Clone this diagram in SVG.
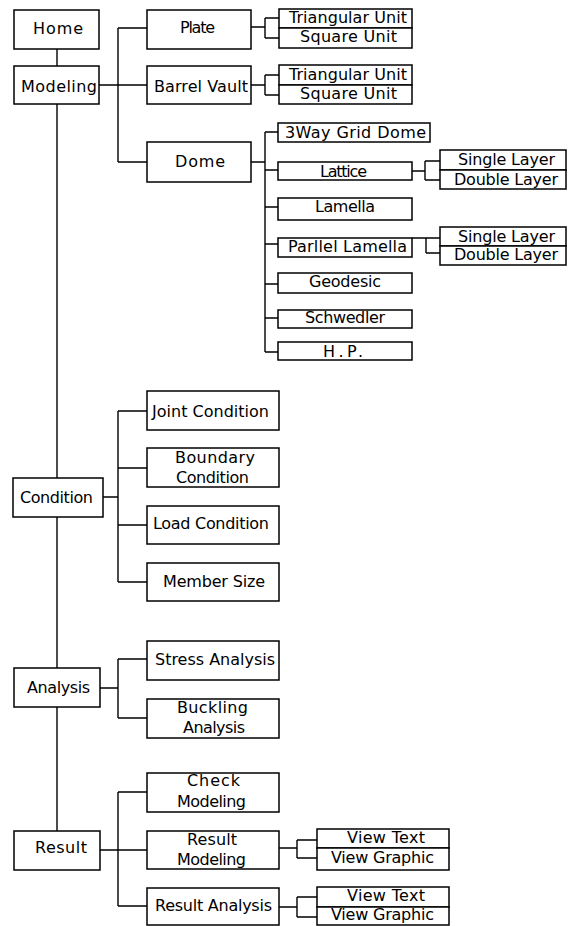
<svg xmlns="http://www.w3.org/2000/svg" width="574" height="926" viewBox="0 0 574 926">
<style>
rect{fill:#fff;stroke:#000;stroke-width:1.5}
.c path{fill:none;stroke:#000;stroke-width:1.4}
text{font-family:"DejaVu Sans","Liberation Sans",Arial,sans-serif;font-size:16px;fill:#000;text-anchor:middle}
</style>
<rect x="0" y="0" width="574" height="926" style="stroke:none"/>
<g class="c" id="connectors">
<path d="M57 49V831"/>
<path d="M99 85H147M118 28V162M118 28H147M118 162H147"/>
<path d="M251 27H265M265 18V38M265 18H279M265 38H279"/>
<path d="M251 85H265M265 75V95M265 75H279M265 95H279"/>
<path d="M251 162H265M265 132V352M265 132H278M265 170H278M265 207H278M265 244H278M265 284H278M265 318H278M265 352H278"/>
<path d="M412 171H425M425 161V180M425 161H440M425 180H440"/>
<path d="M412 238H426M426 238V253M426 238H440M426 253H440"/>
<path d="M103 497H118M118 411V582M118 411H147M118 468H147M118 525H147M118 582H147"/>
<path d="M100 688H118M118 659V718M118 659H147M118 718H147"/>
<path d="M100 850H147M118 792V906M118 792H147M118 906H147"/>
<path d="M279 848H297M297 840V858M297 840H317M297 858H317"/>
<path d="M279 907H297M297 897V917M297 897H317M297 917H317"/>
</g>
<g id="home"><rect x="14" y="10" width="85" height="39"/><text x="58" y="34" textLength="50">Home</text></g>
<g id="modeling"><rect x="14" y="66" width="85" height="38"/><text x="59" y="92" textLength="76">Modeling</text></g>
<g id="plate"><rect x="147" y="10" width="104" height="39"/><text x="197.5" y="33" textLength="35">Plate</text></g>
<g id="barrel-vault"><rect x="147" y="66" width="104" height="38"/><text x="201" y="92" textLength="94">Barrel Vault</text></g>
<g id="dome"><rect x="147" y="142" width="104" height="40"/><text x="200" y="167" textLength="50">Dome</text></g>
<g id="plate-units"><rect x="279" y="9" width="133" height="19"/><rect x="279" y="28" width="133" height="20"/><text x="348" y="23" textLength="118">Triangular Unit</text><text x="348.5" y="42" textLength="97">Square Unit</text></g>
<g id="barrel-units"><rect x="279" y="65" width="133" height="20"/><rect x="279" y="85" width="133" height="19"/><text x="348" y="80" textLength="118">Triangular Unit</text><text x="348.5" y="99" textLength="97">Square Unit</text></g>
<g id="grid-dome"><rect x="278" y="123" width="152" height="19"/><text x="355.5" y="138" textLength="141">3Way Grid Dome</text></g>
<g id="lattice"><rect x="278" y="162" width="134" height="18"/><text x="343.5" y="177" textLength="47">Lattice</text></g>
<g id="lattice-layers"><rect x="440" y="150" width="126" height="20"/><rect x="440" y="170" width="126" height="19"/><text x="506.5" y="165" textLength="97">Single Layer</text><text x="506" y="185" textLength="104">Double Layer</text></g>
<g id="lamella"><rect x="278" y="198" width="134" height="22"/><text x="345" y="212" textLength="60">Lamella</text></g>
<g id="parllel-lamella"><rect x="278" y="238" width="134" height="19"/><text x="347.5" y="252" textLength="119">Parllel Lamella</text></g>
<g id="parllel-layers"><rect x="440" y="227" width="126" height="19"/><rect x="440" y="246" width="126" height="19"/><text x="506.5" y="242" textLength="97">Single Layer</text><text x="506" y="260" textLength="104">Double Layer</text></g>
<g id="geodesic"><rect x="278" y="273" width="134" height="20"/><text x="345" y="287" textLength="72">Geodesic</text></g>
<g id="schwedler"><rect x="278" y="310" width="134" height="18"/><text x="345" y="323" textLength="80">Schwedler</text></g>
<g id="hp"><rect x="278" y="342" width="134" height="18"/><text x="343" y="357" textLength="40">H.P.</text></g>
<g id="condition"><rect x="13" y="478" width="90" height="39"/><text x="56.5" y="503" textLength="73">Condition</text></g>
<g id="joint-condition"><rect x="147" y="391" width="132" height="39"/><text x="210.5" y="417" textLength="117">Joint Condition</text></g>
<g id="boundary-condition"><rect x="147" y="448" width="132" height="39"/><text x="215" y="463" textLength="80">Boundary</text><text x="212.5" y="483" textLength="73">Condition</text></g>
<g id="load-condition"><rect x="147" y="506" width="132" height="38"/><text x="211" y="529" textLength="116">Load Condition</text></g>
<g id="member-size"><rect x="147" y="563" width="132" height="38"/><text x="214" y="587" textLength="102">Member Size</text></g>
<g id="analysis"><rect x="14" y="668" width="86" height="39"/><text x="58.5" y="693" textLength="63">Analysis</text></g>
<g id="stress-analysis"><rect x="147" y="641" width="132" height="39"/><text x="215" y="665" textLength="120">Stress Analysis</text></g>
<g id="buckling-analysis"><rect x="147" y="699" width="132" height="39"/><text x="212.5" y="713" textLength="71">Buckling</text><text x="214" y="733" textLength="62">Analysis</text></g>
<g id="result"><rect x="14" y="831" width="86" height="39"/><text x="61" y="853" textLength="52">Result</text></g>
<g id="check-modeling"><rect x="147" y="773" width="132" height="39"/><text x="213.5" y="786" textLength="53">Check</text><text x="211.5" y="807" textLength="69">Modeling</text></g>
<g id="result-modeling"><rect x="147" y="831" width="132" height="38"/><text x="212" y="845" textLength="50">Result</text><text x="211.5" y="865" textLength="69">Modeling</text></g>
<g id="result-analysis"><rect x="147" y="888" width="132" height="37"/><text x="213.5" y="911" textLength="117">Result Analysis</text></g>
<g id="result-modeling-views"><rect x="317" y="829" width="132" height="19"/><rect x="317" y="848" width="132" height="22"/><text x="386" y="843" textLength="78">View Text</text><text x="382.5" y="863" textLength="103">View Graphic</text></g>
<g id="result-analysis-views"><rect x="317" y="887" width="132" height="20"/><rect x="317" y="907" width="132" height="18"/><text x="386" y="901" textLength="78">View Text</text><text x="382.5" y="920" textLength="103">View Graphic</text></g>
</svg>
